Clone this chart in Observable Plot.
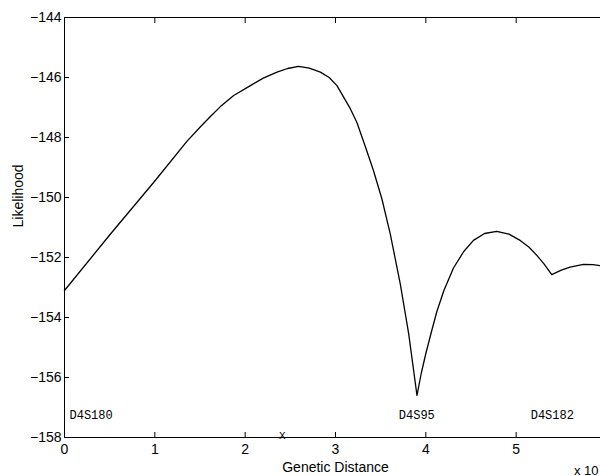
<!DOCTYPE html>
<html><head><meta charset="utf-8">
<script src="https://cdn.jsdelivr.net/npm/d3@7"></script>
<script src="https://cdn.jsdelivr.net/npm/@observablehq/plot@0.6"></script>
<style>
html,body{margin:0;padding:0;background:#fff;overflow:hidden;width:600px;height:476px}
#chart svg{display:block}
</style></head><body><div id="chart"></div>
<script>
// Curve: genetic distance (x 10^-?) vs likelihood
const distance = [0, 0.5, 1.0, 1.357, 1.5, 1.615, 1.726, 1.873, 2.058, 2.2, 2.353, 2.47, 2.592, 2.71, 2.832, 2.93, 3.016, 3.164, 3.237, 3.33, 3.42, 3.514, 3.606, 3.717, 3.81, 3.902, 3.95, 4.0, 4.06, 4.122, 4.2, 4.306, 4.42, 4.527, 4.65, 4.785, 4.92, 5.044, 5.14, 5.229, 5.31, 5.394, 5.5, 5.597, 5.745, 5.85, 5.93, 6.0];
const likelihood = [-153.1, -151.25, -149.45, -148.12, -147.66, -147.3, -146.97, -146.6, -146.27, -146.02, -145.82, -145.7, -145.63, -145.69, -145.82, -146.0, -146.27, -147.04, -147.5, -148.3, -149.1, -150.05, -151.21, -152.88, -154.54, -156.6, -155.85, -155.2, -154.5, -153.8, -153.1, -152.35, -151.8, -151.43, -151.2, -151.13, -151.22, -151.43, -151.65, -151.93, -152.22, -152.57, -152.42, -152.32, -152.23, -152.24, -152.27, -152.3];

const xTicks = [0, 1, 2, 3, 4, 5, 6];
const xTickLabels = [0, 1, 2, 3, 4, 5];
const yTicks = [-158, -156, -154, -152, -150, -148, -146, -144];
const markerNames = ["D4S180", "D4S95", "D4S182"];
const markerPos = [0, 3.9, 5.4];
const estimatePos = [2.41];
const estimateLabel = ["X"];
const xLabel = ["Genetic Distance"];
const yLabel = ["Likelihood"];
const scaleNote = ["x 10"];
const scaleExp = ["\u22123"];

const curve = distance.map((x, i) => ({x, y: likelihood[i]}));
const markers = markerNames.map((name, i) => ({name, pos: markerPos[i]}));
const sans = "'Liberation Sans', Arial, Helvetica, sans-serif";
const mono = "'Liberation Mono', 'Courier New', monospace";

const chart = Plot.plot({
  width: 606,
  height: 476,
  marginLeft: 64,
  marginRight: 0,
  marginTop: 17,
  marginBottom: 39,
  style: {fontFamily: sans, fontSize: "14px", color: "black", background: "white", maxWidth: "none", overflow: "visible"},
  x: {domain: [0, 6]},
  y: {domain: [-158, -144]},
  marks: [
    Plot.frame({stroke: "black", strokeWidth: 1}),
    Plot.axisX({anchor: "bottom", ticks: xTicks, tickSize: -5, tickFormat: () => "", label: null}),
    Plot.axisX({anchor: "bottom", ticks: xTickLabels, tickSize: 0, tickPadding: 7, tickFormat: d => String(d), label: null, fontSize: 14}),
    Plot.axisX({anchor: "top", ticks: xTicks, tickSize: -5, tickFormat: () => "", label: null}),
    Plot.axisY({anchor: "left", ticks: yTicks, tickSize: -5, tickPadding: 8, tickFormat: d => "\u2212" + Math.abs(d), label: null, fontSize: 14}),
    Plot.axisY({anchor: "right", ticks: yTicks, tickSize: -5, tickFormat: () => "", label: null}),
    Plot.line(curve, {x: "x", y: "y", stroke: "black", strokeWidth: 1.3}),
    Plot.text(markers.slice(0, 1), {x: "pos", text: "name", frameAnchor: "bottom", lineAnchor: "bottom", textAnchor: "start", dx: 5, dy: -19, fontFamily: mono, fontSize: 12}),
    Plot.text(markers.slice(1), {x: "pos", text: "name", frameAnchor: "bottom", lineAnchor: "bottom", dy: -19, fontFamily: mono, fontSize: 12}),
    Plot.text(estimatePos, {x: d => d, text: (d, i) => estimateLabel[i], frameAnchor: "bottom", lineAnchor: "middle", dy: -2, fontFamily: mono, fontSize: 11}),
    Plot.text(xLabel, {text: d => d, frameAnchor: "bottom", lineAnchor: "bottom", dy: 34, fontSize: 14}),
    Plot.text(yLabel, {text: d => d, frameAnchor: "left", rotate: -90, dx: -46, fontSize: 14}),
    Plot.text(scaleNote, {text: d => d, frameAnchor: "bottom-right", textAnchor: "end", lineAnchor: "bottom", dx: -8, dy: 37, fontSize: 13}),
    Plot.text(scaleExp, {text: d => d, frameAnchor: "bottom-right", textAnchor: "start", lineAnchor: "bottom", dx: -7, dy: 31, fontSize: 10})
  ]
});
document.getElementById("chart").appendChild(chart);
</script></body></html>
